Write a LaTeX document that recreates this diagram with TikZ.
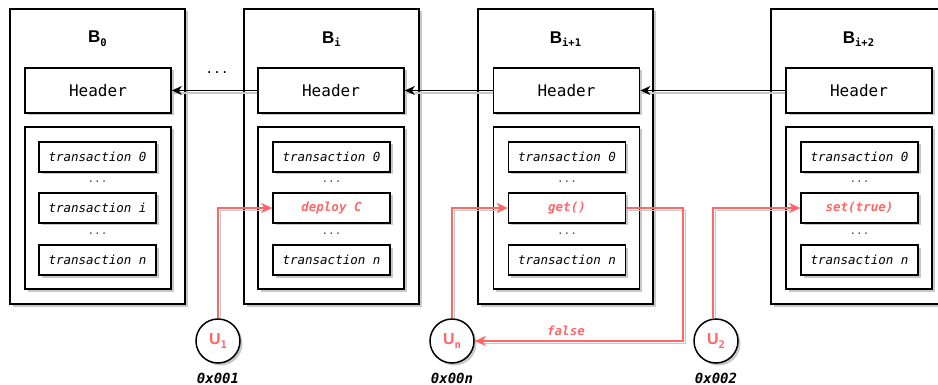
\documentclass[tikz,border=0pt]{standalone}
\usepackage{fontspec}
\setmainfont{Liberation Sans}
\setsansfont{Liberation Sans}
\setmonofont{DejaVu Sans Mono}
\usetikzlibrary{shadows,arrows.meta,calc}
\definecolor{myred}{RGB}{255,102,102}
\definecolor{shad}{RGB}{200,200,200}
\tikzset{
  sh/.style={drop shadow={shadow xshift=2.5pt,shadow yshift=-2.5pt,fill=shad,opacity=1}},
  outerbox/.style={draw=black,line width=1.7pt,fill=white,sh,minimum width=175pt,minimum height=295pt,inner sep=0pt},
  hdr/.style={draw=black,line width=1.7pt,fill=white,sh,minimum width=146pt,minimum height=45pt,inner sep=0pt,font=\fontsize{16}{18}\selectfont\ttfamily},
  cont/.style={draw=black,line width=1.7pt,fill=white,sh,minimum width=146pt,minimum height=162pt,inner sep=0pt},
  tx/.style={draw=black,line width=1.5pt,fill=white,sh,minimum width=117pt,minimum height=30pt,inner sep=0pt,font=\fontsize{12.5}{14}\selectfont\ttfamily\itshape},
  txred/.style={tx,text=myred,font=\fontsize{12.5}{14}\selectfont\ttfamily\itshape\bfseries},
  dots/.style={text=black!70,font=\fontsize{11}{12}\selectfont\ttfamily,inner sep=0pt},
  title/.style={font=\fontsize{17}{19}\selectfont\sffamily\bfseries,inner sep=0pt},
  user/.style={circle,draw=black,line width=1.5pt,fill=white,sh,minimum size=44pt,inner sep=0pt,text=myred,font=\fontsize{16}{18}\selectfont\sffamily\bfseries},
  addr/.style={font=\fontsize{14}{16}\selectfont\ttfamily\itshape\bfseries,inner sep=0pt},
  blk/.style={line width=1.4pt,-{Stealth[length=10pt,width=9pt,inset=3pt]}},
  blksh/.style={line width=1.4pt,draw=shad},
  redl/.style={draw=myred,line width=1.4pt,-{Stealth[length=11pt,width=10pt,inset=3pt]}},
  redsh/.style={draw=shad,line width=1.4pt},
}
\newcommand{\sbs}[1]{\raisebox{-0.4ex}{\fontsize{10.5}{11}\selectfont\ttfamily\bfseries #1}}
\begin{document}
\begin{tikzpicture}[x=1pt,y=-1pt]
\useasboundingbox (0,0) rectangle (938,385);
\clip (0,0) rectangle (938,385);
% ---------- Blocks ----------
% B0
\node[outerbox] (b0) at (97.5,156.5) {};
\node[title] (t0) at (97.5,39) {B\sbs{0}};
\node[hdr] (h0) at (98,90.5) {Header};
\node[cont] (c0) at (98,208) {};
\node[tx] (x00) at (97.5,157) {transaction 0};
\node[dots] (d01) at (97.5,182) {...};
\node[tx] (x0i) at (97.5,208) {transaction i};
\node[dots] (d02) at (97.5,234) {...};
\node[tx] (x0n) at (97.5,260) {transaction n};
% Bi
\node[outerbox] (b1) at (331.5,156.5) {};
\node[title] (t1) at (331.5,39) {B\sbs{i}};
\node[hdr] (h1) at (331,90.5) {Header};
\node[cont] (c1) at (331,208) {};
\node[tx] (x10) at (331.5,157) {transaction 0};
\node[dots] (d11) at (331.5,182) {...};
\node[txred] (dep) at (331.5,208) {deploy C};
\node[dots] (d12) at (331.5,234) {...};
\node[tx] (x1n) at (331.5,260) {transaction n};
% Bi+1
\node[outerbox] (b2) at (565.5,156.5) {};
\node[title] (t2) at (565.5,39) {B\sbs{i+1}};
\node[hdr] (h2) at (566.5,90.5) {Header};
\node[cont] (c2) at (566.5,208) {};
\node[tx] (x20) at (567,157) {transaction 0};
\node[dots] (d21) at (567,182) {...};
\node[txred] (get) at (567,208) {get()};
\node[dots] (d22) at (567,234) {...};
\node[tx] (x2n) at (567,260) {transaction n};
% Bi+2
\node[outerbox] (b3) at (858.5,156.5) {};
\node[title] (t3) at (858.5,39) {B\sbs{i+2}};
\node[hdr] (h3) at (859,90.5) {Header};
\node[cont] (c3) at (859,208) {};
\node[tx] (x30) at (859.5,157) {transaction 0};
\node[dots] (d31) at (859.5,182) {...};
\node[txred] (set) at (859.5,208) {set(true)};
\node[dots] (d32) at (859.5,234) {...};
\node[tx] (x3n) at (859.5,260) {transaction n};
% dots between B0 and Bi
\node[font=\fontsize{13}{14}\selectfont\ttfamily,inner sep=0pt] (gap) at (217,73) {...};
% ---------- Chain arrows ----------
\draw[blksh] ([shift={(0,2.5)}]h3.west) -- ([shift={(2,2.5)}]h2.east);
\draw[blk] (h3.west) -- (h2.east);
\draw[blksh] ([shift={(0,2.5)}]h2.west) -- ([shift={(2,2.5)}]h1.east);
\draw[blk] (h2.west) -- (h1.east);
\draw[blksh] ([shift={(0,2.5)}]h1.west) -- ([shift={(2,2.5)}]h0.east);
\draw[blk] (h1.west) -- (h0.east);
% ---------- Users ----------
\node[user] (u1) at (218,341) {U\sbs{1}};
\node[user] (un) at (452,341) {U\sbs{n}};
\node[user] (u2) at (716,341) {U\sbs{2}};
\node[addr] (a1) at (218,378) {0x001};
\node[addr] (an) at (452,378) {0x00n};
\node[addr] (a2) at (716,378) {0x002};
\coordinate (ret) at (683,341);
% red connector shadows
\draw[redsh] ([shift={(2.5,0)}]u1.north) |- ([shift={(-6,2.5)}]dep.west);
\draw[redsh] ([shift={(2.5,0)}]un.north) |- ([shift={(-6,2.5)}]get.west);
\draw[redsh] ([shift={(-0.5,0)}]u2.north) |- ([shift={(-6,2.5)}]set.west);
\draw[redsh] ([shift={(0,2.5)}]get.east) -| ([shift={(2.5,2.5)}]ret) -- ([shift={(6,2.5)}]un.east);
% red connectors
\draw[redl] (u1.north) |- (dep.west);
\draw[redl] (un.north) |- (get.west);
\draw[redl] ([xshift=-3pt]u2.north) |- (set.west);
\draw[redl] (get.east) -| (ret) -- (un.east);
\node[text=myred,font=\fontsize{12.5}{14}\selectfont\ttfamily\itshape\bfseries,inner sep=0pt] (fl) at (566,331) {false};
\end{tikzpicture}
\end{document}
